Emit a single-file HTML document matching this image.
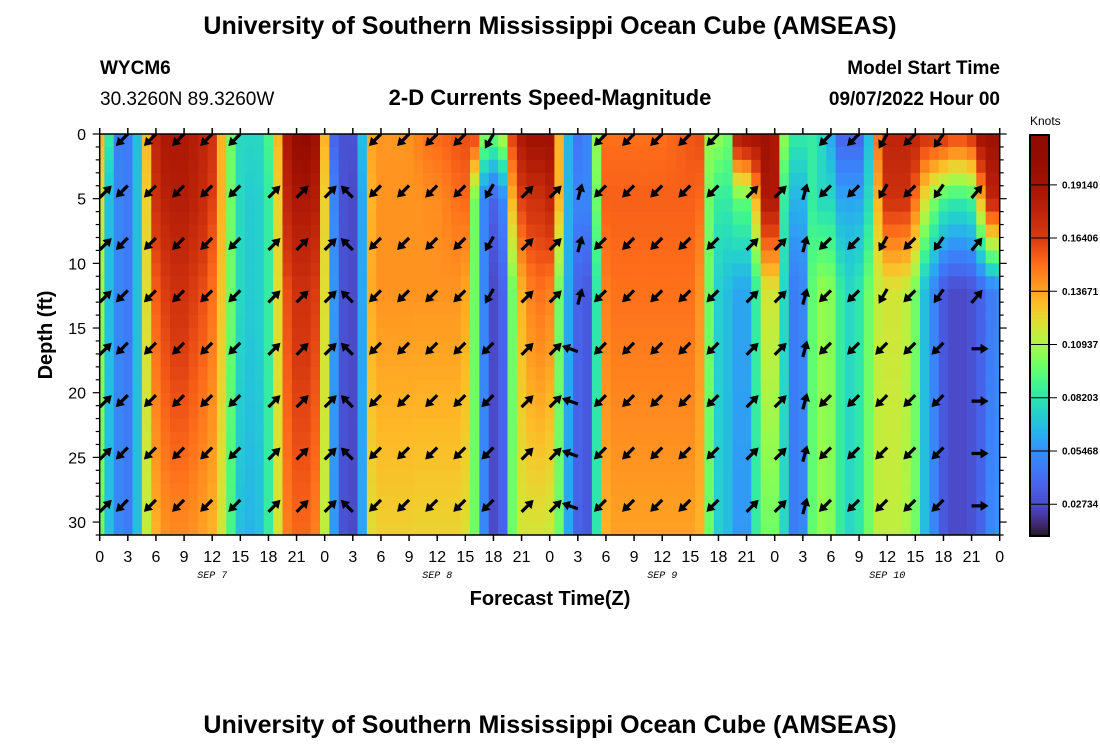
<!DOCTYPE html>
<html><head><meta charset="utf-8">
<style>
body{margin:0;background:#fff;width:1100px;height:750px;overflow:hidden;font-family:"Liberation Sans",sans-serif;}
svg{position:absolute;left:0;top:0}
</style></head>
<body>
<svg id="chart" width="1100" height="750">
<text x="550" y="34" text-anchor="middle" font-size="25" font-weight="bold">University of Southern Mississippi Ocean Cube (AMSEAS)</text>
<text x="100" y="74" font-size="19" font-weight="bold">WYCM6</text>
<text x="100" y="105" font-size="19">30.3260N  89.3260W</text>
<text x="550" y="105" text-anchor="middle" font-size="22" font-weight="bold">2-D Currents Speed-Magnitude</text>
<text x="1000" y="74" text-anchor="end" font-size="19" font-weight="bold">Model Start Time</text>
<text x="1000" y="105" text-anchor="end" font-size="19" font-weight="bold">09/07/2022 Hour 00</text>
<text transform="translate(52,335) rotate(-90)" text-anchor="middle" font-size="20" font-weight="bold">Depth (ft)</text>
<text x="550" y="605" text-anchor="middle" font-size="20" font-weight="bold">Forecast Time(Z)</text>
<text x="550" y="733" text-anchor="middle" font-size="25" font-weight="bold">University of Southern Mississippi Ocean Cube (AMSEAS)</text>
<text x="1030" y="125" font-size="12">Knots</text>
<defs><clipPath id="pc"><rect x="99.7" y="134" width="900" height="401"/></clipPath></defs>
<g id="cells" clip-path="url(#pc)"></g>
<g id="arrows" clip-path="url(#pc)"></g>
<g id="axes"></g>
<g id="cbar"></g>
</svg>
<script>
const hours = Array.from({length:97},(_, i)=>i);
const depthKnots = [0,5,12,31];
const speedSurface = [.133,.085,.047,.047,.068,.133,.178,.187,.187,.187,
.183,.178,.170,.133,.099,.077,.077,.077,.090,.133,
.187,.204,.207,.195,.133,.037,.030,.030,.068,.137,
.140,.140,.140,.141,.146,.150,.152,.154,.157,.159,
.163,.106,.099,.114,.163,.187,.195,.195,.195,.133,
.065,.044,.051,.106,.150,.150,.150,.150,.150,.150,
.150,.152,.154,.157,.159,.106,.106,.099,.187,.195,
.195,.195,.187,.106,.085,.085,.085,.077,.061,.037,
.037,.037,.068,.150,.178,.178,.178,.178,.170,.170,
.170,.163,.163,.170,.195,.195,.195];
const speedUpper = [.118,.068,.051,.047,.068,.125,.170,.180,.183,.183,
.180,.174,.163,.133,.099,.077,.072,.074,.085,.125,
.178,.187,.187,.183,.125,.051,.030,.027,.061,.133,
.141,.141,.141,.141,.141,.142,.143,.146,.150,.152,
.099,.051,.037,.051,.133,.163,.170,.170,.178,.133,
.065,.051,.051,.099,.154,.154,.154,.154,.154,.154,
.154,.154,.154,.154,.152,.099,.085,.085,.096,.096,
.133,.187,.187,.085,.065,.065,.085,.077,.077,.061,
.061,.061,.077,.133,.170,.170,.170,.150,.121,.103,
.090,.086,.086,.090,.133,.178,.178];
const speedMid = [.106,.068,.051,.047,.068,.121,.155,.164,.170,.170,
.164,.159,.150,.129,.099,.077,.072,.074,.085,.121,
.159,.170,.170,.164,.121,.057,.030,.027,.061,.135,
.141,.141,.141,.141,.141,.141,.141,.141,.141,.136,
.099,.051,.027,.037,.099,.133,.146,.150,.146,.099,
.061,.037,.033,.083,.146,.150,.150,.150,.150,.150,
.150,.150,.150,.150,.141,.099,.074,.068,.061,.061,
.085,.118,.118,.077,.047,.051,.096,.106,.103,.085,
.077,.083,.099,.114,.118,.118,.114,.099,.068,.051,
.033,.027,.027,.030,.037,.047,.051];
const speedBottom = [.099,.068,.051,.047,.068,.114,.133,.141,.143,.143,
.141,.137,.133,.118,.090,.068,.065,.068,.085,.118,
.146,.152,.152,.146,.114,.057,.030,.027,.061,.121,
.125,.125,.125,.125,.124,.124,.124,.124,.124,.121,
.099,.051,.027,.037,.099,.118,.118,.118,.116,.099,
.061,.037,.033,.083,.133,.137,.137,.137,.137,.137,
.137,.137,.137,.137,.133,.099,.074,.068,.057,.057,
.085,.099,.099,.077,.047,.051,.096,.106,.103,.085,
.077,.083,.099,.114,.114,.114,.110,.099,.068,.051,
.033,.027,.027,.030,.037,.051,.057];
const arrowHours = [0,3,6,9,12,15,18,21,24,27,30,33,36,39,42,45,48,51,54,57,60,63,66,69,72,75,78,81,84,87,90,93];
const dirUpper = [45,225,225,225,225,225,45,45,45,315,225,225,225,225,210,45,45,15,225,225,225,225,225,45,45,15,225,225,210,225,215,40];
const dirLower = [45,225,225,225,225,225,45,45,45,315,225,225,225,225,225,45,45,290,225,225,225,225,225,45,45,15,225,225,225,225,225,90];
const arrowDepths = [0,4.45,8.5,12.55,16.6,20.65,24.7,28.75];
const cbTicks = [0.02734,0.05468,0.08203,0.10937,0.13671,0.16406,0.19140];
const cbLabels = ["0.02734","0.05468","0.08203","0.10937","0.13671","0.16406","0.19140"];
const xTickLabels = ["0","3","6","9","12","15","18","21"];
const dayLabels = ["SEP 7","SEP 8","SEP 9","SEP 10"];
const yTicks = [0,5,10,15,20,25,30];

const X0=99.7,X1=999.7,Y0=134,Y1=535,VMIN=0.011,VMAX=0.217;
// colormap definition (value -> position along turbo palette)
const cmV=[0.011,0.027,0.055,0.082,0.109,0.137,0.164,0.191,0.217];
const cmT=[0,0.08,0.18,0.33,0.52,0.70,0.85,0.93,1];
const xs=h=>X0+(h/96)*(X1-X0);
const ys=d=>Y0+(d/31)*(Y1-Y0);
const NS='http://www.w3.org/2000/svg';
function turbo(t){t=Math.max(0,Math.min(1,t));
 const r=0.13572138+t*(4.61539260+t*(-42.66032258+t*(132.13108234+t*(-152.94239396+t*59.28637943))));
 const g=0.09140261+t*(2.19418839+t*(4.84296658+t*(-14.18503333+t*(4.27729857+t*2.82956604))));
 const b=0.10667330+t*(12.64194608+t*(-60.58204836+t*(110.36276771+t*(-89.90310912+t*27.34824973))));
 const c=v=>Math.round(255*Math.max(0,Math.min(1,v)));
 return `rgb(${c(r)},${c(g)},${c(b)})`;}
function col(v){
 if(v<=cmV[0])return turbo(0);
 for(let k=0;k<cmV.length-1;k++){if(v<=cmV[k+1]){const f=(v-cmV[k])/(cmV[k+1]-cmV[k]);return turbo(cmT[k]+f*(cmT[k+1]-cmT[k]));}}
 return turbo(1);}
const layers=[speedSurface,speedUpper,speedMid,speedBottom];
function valAt(i,d){
 for(let k=0;k<depthKnots.length-1;k++){
  if(d<=depthKnots[k+1]){const f=(d-depthKnots[k])/(depthKnots[k+1]-depthKnots[k]);
   return layers[k][i]*(1-f)+layers[k+1][i]*f;}}
 return layers[3][i];}
function mk(tag,attrs,parent){const e=document.createElementNS(NS,tag);for(const k in attrs)e.setAttribute(k,attrs[k]);parent.appendChild(e);return e;}
const cells=document.getElementById('cells');
hours.forEach(i=>{
 for(let r=0;r<31;r++){
  const v=valAt(i,r+0.5);
  const e=mk('rect',{x:xs(i-0.5),y:ys(r),width:(X1-X0)/96+0.6,height:(Y1-Y0)/31+0.6,fill:col(v)},cells);
  
  
 }});
const arrows=document.getElementById('arrows');
arrowHours.forEach((h,i)=>{arrowDepths.forEach((d,j)=>{
 const deg=d>=16?dirLower[i]:dirUpper[i];
 const a=deg*Math.PI/180, L=17;
 const dx=Math.sin(a)*L, dy=-Math.cos(a)*L;
 const cx=xs(h)+dx/2, cy=j===0?ys(d)+dy/2:ys(d);
 const x1=cx-dx/2,y1=cy-dy/2,x2=cx+dx/2,y2=cy+dy/2;
 const g=mk('g',{},arrows);
 
 
 const ux=dx/L,uy=dy/L;
 mk('line',{x1:x1,y1:y1,x2:x2-ux*5,y2:y2-uy*5,stroke:'#000','stroke-width':3.2},g);
 const bx=x2-ux*8,by=y2-uy*8;
 mk('polygon',{points:`${x2},${y2} ${bx-uy*5},${by+ux*5} ${bx+uy*5},${by-ux*5}`,fill:'#000'},g);
});});
const axes=document.getElementById('axes');
const fr=mk('rect',{x:X0,y:Y0,width:X1-X0,height:Y1-Y0,fill:'none',stroke:'#000','stroke-width':1.5},axes);


for(let h=0;h<=96;h+=3){
 mk('line',{x1:xs(h),y1:Y0,x2:xs(h),y2:Y0-6,stroke:'#000','stroke-width':1.5},axes);
 mk('line',{x1:xs(h),y1:Y1,x2:xs(h),y2:Y1+6,stroke:'#000','stroke-width':1.5},axes);
 const t=mk('text',{x:xs(h),y:Y1+27,'text-anchor':'middle','font-size':16},axes);
 t.textContent=xTickLabels[(h/3)%8];
 
 
}
dayLabels.forEach((s,i)=>{const t=mk('text',{x:xs(12+24*i),y:Y1+43,'text-anchor':'middle','font-size':10,'font-style':'italic','font-family':'Liberation Mono, monospace'},axes);
 t.textContent=s;
 
 });
for(let d=0;d<=31;d++){const L=d%5===0?7:4;
 mk('line',{x1:X0,y1:ys(d),x2:X0-L,y2:ys(d),stroke:'#000','stroke-width':1.2},axes);
 mk('line',{x1:X1,y1:ys(d),x2:X1+L,y2:ys(d),stroke:'#000','stroke-width':1.2},axes);}
yTicks.forEach(d=>{const t=mk('text',{x:86,y:ys(d)+6,'text-anchor':'end','font-size':16},axes);
 t.textContent=String(d);
 
 });
const cb=document.getElementById('cbar');
const CB0=135,CB1=536;
const cv=v=>CB1-(v-VMIN)/(VMAX-VMIN)*(CB1-CB0);
for(let k=0;k<200;k++){const v=VMIN+(k+0.5)/200*(VMAX-VMIN);
 const r=mk('rect',{x:1030,y:cv(v)-1.3,width:19,height:2.6,fill:col(v)},cb);
 
 }
const cbf=mk('rect',{x:1030,y:CB0,width:19,height:CB1-CB0,fill:'none',stroke:'#000','stroke-width':2},cb);


cbTicks.forEach((v,i)=>{mk('line',{x1:1030,y1:cv(v),x2:1057,y2:cv(v),stroke:'#000','stroke-width':1},cb);
 const t=mk('text',{x:1062,y:cv(v)+3.5,'font-size':10,'font-weight':'bold'},cb);
 t.textContent=cbLabels[i];
 
 });
</script>
</body></html>
